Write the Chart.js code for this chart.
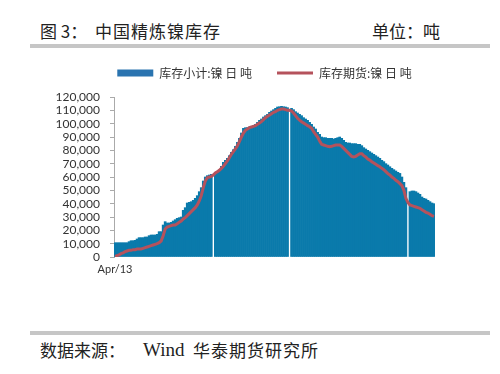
<!DOCTYPE html>
<html>
<head>
<meta charset="utf-8">
<script src="https://cdn.jsdelivr.net/npm/chart.js@4"></script>
<style>
  html, body { margin: 0; padding: 0; background: #fff; }
  body { width: 500px; height: 374px; position: relative; overflow: hidden; }
  .txt { position: absolute; font: 17px "Noto Sans CJK SC", sans-serif; color: #222; white-space: pre; line-height: 26px; }
  .rule { position: absolute; left: 30px; width: 460px; height: 4px; background: #c6c6c6; }
  .serif { font-family: "Liberation Serif", serif; font-size: 19px; }
  #wrap { position: absolute; left: 0; top: 42px; width: 500px; height: 245px; }
</style>
</head>
<body>
<div class="txt" style="left:40px; top:18px">图 3：</div>
<div class="txt" style="left:95px; top:18px; letter-spacing:1px">中国精炼镍库存</div>
<div class="txt" style="left:372px; top:18px">单位：吨</div>
<div class="rule" style="top:44px"></div>
<div id="wrap"><canvas id="myChart"></canvas></div>
<div class="rule" style="top:331px"></div>
<div class="txt" style="left:40px; top:337px">数据来源：</div>
<div class="txt serif" style="left:143px; top:337px">Wind</div>
<div class="txt" style="left:193px; top:337px; letter-spacing:1px">华泰期货研究所</div>

<script>
// 库存, 千吨, null = gap in the bars
let stockTotal = [
  10.7, 10.7, 10.7, 10.7, 10.7, 10.7, 10.7, 11.5, 12.2, 12.2,
  12.5, 13.5, 14.5, 14.5, 14.5, 15, 15, 16, 16.5, 16.5,
  16.5, 17, 19, 19, 24, 26.5, 25.5, 25.5, 26, 27,
  28, 29, 29.5, 30, 35, 37, 40.5, 41, 41.5, 42.5,
  44, 46, 49, 52, 57, 60, 61, 61.5, 62, null,
  63, 63.5, 65, 68, 71, 72.5, 74, 76, 78.5, 80.5,
  83, 86, 89, 93, 96.5, 97, 97, 97.5, 98, 98.5,
  99.5, 101, 102.5, 103.5, 105, 106, 107, 108.5, 109.5, 110.5,
  111.5, 112.5, 112.7, 113, 112.7, 112.5, 112, null, 111.5, 110.5,
  109, 108, 107, 106, 104.5, 103.5, 102.5, 101, 99.5, 97.5,
  96, 93.5, 92, 90, 89.5, 89.5, 89, 89, 89, 88.5,
  89, 89.5, 90, 89, 87.5, 86, 85.5, 85.5, 85, 85,
  85, 84.5, 84.5, 83.5, 82, 81, 80, 79, 78, 77,
  76, 75, 74, 72.5, 71.5, 70, 69, 67.7, 66.5, 65.5,
  64.5, 63.5, 62.7, 60, 56, 52, null, 49, 49.5, 49.5,
  49, 48, 47, 45, 44, 43.5, 42.5, 41.5, 40.5, 40
];
let stockFutures = [
  0.5, 1, 1.5, 2.5, 3, 4, 4.5, 5, 5, 5.5,
  5.5, 6, 6, 6, 6.5, 7, 7.5, 8, 8.5, 9,
  9.5, 10, 10.7, 12, 16, 21, 22.5, 23, 23.5, 24,
  24, 25, 26, 27, 28.5, 29.5, 31, 32.5, 34, 35.5,
  37, 39, 42, 46, 52, 57, 59.5, 60, 60.5, 61.5,
  63, 64, 65, 66.5, 68, 70, 72, 74.5, 77, 79,
  81, 83.5, 86.5, 90, 93, 95, 96, 97, 97.5, 98,
  98.5, 99.5, 100.5, 101.5, 103, 104.5, 105.5, 106.5, 107.5, 108.5,
  109, 110, 110.5, 111, 111, 110.5, 110, 110, 109.5, 108,
  106, 104, 102.7, 101.5, 100.5, 99.5, 98.5, 97.7, 96.5, 94,
  92, 90, 87, 84.5, 84, 83.5, 83, 82.7, 83, 83.5,
  84, 84, 84, 83, 81.5, 80, 78.5, 77, 75.5, 75,
  75.5, 76.5, 77.5, 77.5, 76, 75, 73.5, 72.7, 71.5, 70.5,
  69.5, 68.5, 67.7, 66.5, 65.5, 64, 62.5, 61.5, 60, 59,
  57.5, 56.5, 55, 53.5, 50, 44, 41, 39, 38.5, 38,
  37.5, 37, 36.5, 35.5, 34.5, 33.5, 33, 32, 31, 30.5
];
let labels = stockTotal.map((v, i) => i === 0 ? 'Apr/13' : '');
let seriesNames = ['库存小计:镍 日 吨', '库存期货:镍 日 吨'];

let barColor = '#0a7aab';
let lineColor = '#b5525c';

let ctx = document.getElementById('myChart');
new Chart(ctx, {
    type: 'bar',
    data: {
        labels: labels,
        datasets: [{
            label: seriesNames[0],
            data: stockTotal.map(v => v === null ? null : v * 1000),
            backgroundColor: barColor,
            borderWidth: 0,
            barPercentage: 1,
            categoryPercentage: 1,
            order: 1
        }, {
            type: 'line',
            label: seriesNames[1],
            data: stockFutures.map(v => v * 1000),
            borderColor: lineColor,
            backgroundColor: lineColor,
            borderWidth: 3,
            pointRadius: 0,
            tension: 0,
            order: 0
        }]
    },
    options: {
        responsive: true,
        maintainAspectRatio: false,
        animation: false,
        layout: { padding: { left: 54, right: 25, top: 0, bottom: 0 } },
        plugins: {
            tooltip: { enabled: false },
            legend: {
                position: 'top',
                labels: {
                    usePointStyle: true,
                    pointStyleWidth: 36,
                    boxHeight: 7,
                    padding: 25,
                    color: '#333',
                    font: { family: '"Noto Sans CJK SC", sans-serif', size: 12 },
                    sort: (a, b) => a.datasetIndex - b.datasetIndex,
                    generateLabels(chart) {
                        let items = Chart.defaults.plugins.legend.labels.generateLabels(chart);
                        items.forEach(it => {
                            if (it.datasetIndex === 0) {
                                it.pointStyle = 'rect';
                                it.lineWidth = 0;
                                it.fillStyle = '#2a74b0';
                            } else {
                                it.pointStyle = 'line';
                                it.lineWidth = 3;
                                it.strokeStyle = lineColor;
                            }
                        });
                        return items;
                    }
                }
            }
        },
        scales: {
            x: {
                grid: { display: false, drawTicks: false },
                border: { display: false },
                ticks: {
                    autoSkip: false,
                    maxRotation: 0,
                    padding: 6,
                    color: '#333',
                    font: { family: 'Lato, sans-serif', size: 11 }
                },
                afterFit(s) { s.height = 30; }
            },
            xTop: {
                type: 'category',
                position: 'top',
                grid: { display: false, drawTicks: false },
                border: { display: false },
                ticks: { display: false },
                afterFit(s) { s.height = 8; }
            },
            y: {
                min: 0,
                max: 120000,
                grid: { drawOnChartArea: false, drawTicks: true, tickLength: 4, color: '#aaa' },
                border: { display: true, color: '#aaa' },
                ticks: {
                    stepSize: 10000,
                    autoSkip: false,
                    padding: 10,
                    color: '#333',
                    font: { family: 'Lato, sans-serif', size: 12 },
                    callback: v => v.toLocaleString('en-US')
                },
                afterFit(s) { s.width = 60; }
            },
            yRight: {
                type: 'linear',
                position: 'right',
                grid: { display: false, drawTicks: false },
                border: { display: false },
                ticks: { display: false },
                afterFit(s) { s.width = 40; }
            }
        }
    }
});
</script>
</body>
</html>
